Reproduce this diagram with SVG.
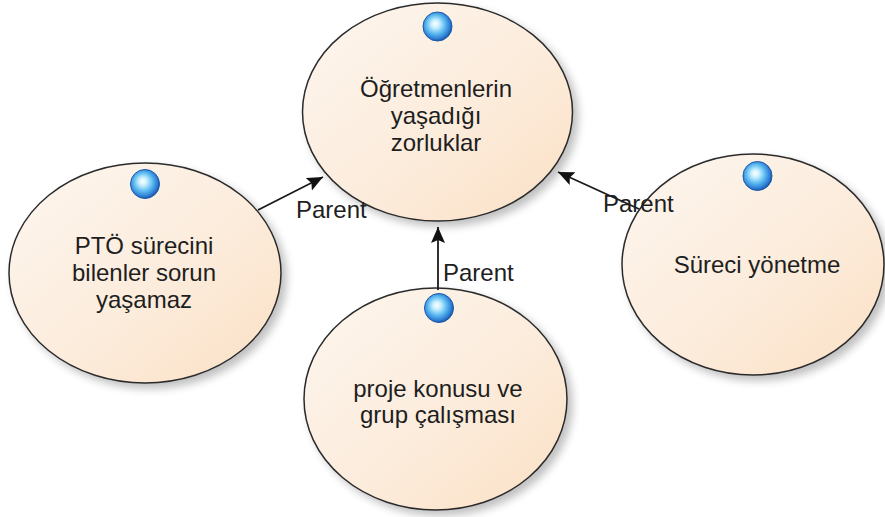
<svg xmlns="http://www.w3.org/2000/svg" width="885" height="517" viewBox="0 0 885 517">
  <defs>
    <style>
      .node { fill: url(#fillGrad); stroke: #2b2b2b; stroke-width: 1.5; filter: url(#shadow); }
      .lbl { font-family: "Liberation Sans", Arial, sans-serif; font-size: 24px; fill: #1e1e1e; text-anchor: middle; }
      .elbl { font-family: "Liberation Sans", Arial, sans-serif; font-size: 24px; fill: #1e1e1e; }
      .edge { stroke: #1a1a1a; stroke-width: 1.8; fill: none; marker-end: url(#arrow); }
      .bulb { fill: url(#bulbGrad); stroke: #1b5aa8; stroke-width: 1; }
    </style>
    <linearGradient id="fillGrad" x1="0" y1="0" x2="1" y2="1">
      <stop offset="0" stop-color="#fdf6ef"/>
      <stop offset="0.55" stop-color="#fcecdc"/>
      <stop offset="1" stop-color="#fbe0c4"/>
    </linearGradient>
    <radialGradient id="bulbGrad" cx="0.45" cy="0.45" r="0.55" fx="0.42" fy="0.4">
      <stop offset="0" stop-color="#ffffff"/>
      <stop offset="0.25" stop-color="#c8f0ff"/>
      <stop offset="0.6" stop-color="#5ab8f0"/>
      <stop offset="0.9" stop-color="#2a78d0"/>
      <stop offset="1" stop-color="#1a58a8"/>
    </radialGradient>
    <filter id="shadow" x="-20%" y="-20%" width="150%" height="150%">
      <feGaussianBlur in="SourceAlpha" stdDeviation="4"/>
      <feOffset dx="5" dy="5" result="b"/>
      <feComponentTransfer><feFuncA type="linear" slope="0.25"/></feComponentTransfer>
      <feMerge><feMergeNode/><feMergeNode in="SourceGraphic"/></feMerge>
    </filter>
    <marker id="arrow" markerUnits="userSpaceOnUse" markerWidth="18" markerHeight="16" refX="16" refY="7" orient="auto">
      <path d="M0,0 L16,7 L0,14 L3,7 z" fill="#111"/>
    </marker>
  </defs>

  <g id="node-top">
    <ellipse class="node" cx="437.5" cy="112" rx="135" ry="109"/>
    <circle class="bulb" cx="437.5" cy="26.5" r="14.5"/>
    <text class="lbl" x="436" y="97">Öğretmenlerin</text>
    <text class="lbl" x="436" y="124">yaşadığı</text>
    <text class="lbl" x="436" y="151">zorluklar</text>
  </g>

  <g id="node-left">
    <ellipse class="node" cx="145" cy="273" rx="136" ry="110"/>
    <circle class="bulb" cx="145" cy="184" r="14.5"/>
    <text class="lbl" x="144" y="254">PTÖ sürecini</text>
    <text class="lbl" x="144" y="281">bilenler sorun</text>
    <text class="lbl" x="144" y="308">yaşamaz</text>
  </g>

  <g id="node-bottom">
    <ellipse class="node" cx="435.5" cy="399" rx="131.5" ry="111"/>
    <circle class="bulb" cx="439" cy="308" r="14.5"/>
    <text class="lbl" x="438" y="397">proje konusu ve</text>
    <text class="lbl" x="438" y="423">grup çalışması</text>
  </g>

  <g id="node-right">
    <ellipse class="node" cx="753" cy="264.5" rx="131" ry="110.5"/>
    <circle class="bulb" cx="757.5" cy="176" r="14.5"/>
    <text class="lbl" x="757" y="273">Süreci yönetme</text>
  </g>

  <g id="connectors">
    <path class="edge" d="M258,210 L323,177"/>
    <path class="edge" d="M438,290 L438,227"/>
    <path class="edge" d="M639,209 L558,172"/>
    <text class="elbl" x="296" y="218">Parent</text>
    <text class="elbl" x="443" y="281">Parent</text>
    <text class="elbl" x="603" y="212">Parent</text>
  </g>
</svg>
